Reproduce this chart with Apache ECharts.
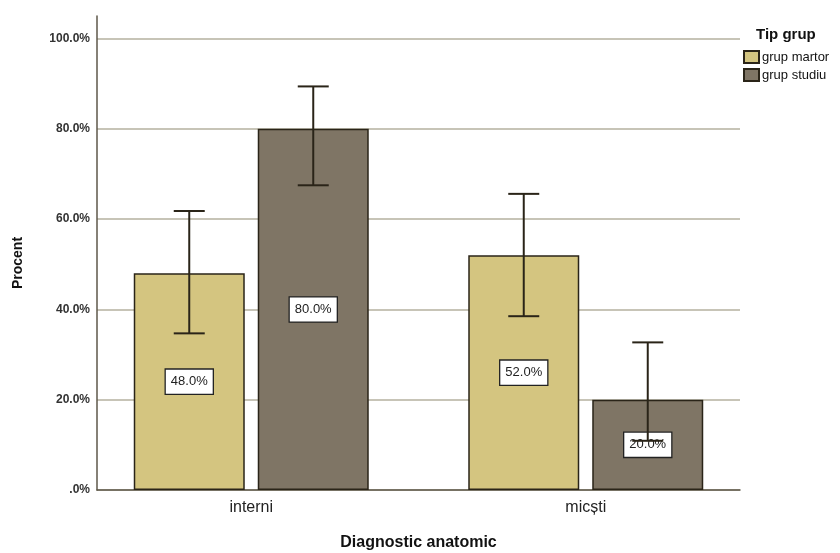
<!DOCTYPE html>
<html><head><meta charset="utf-8">
<script src="https://cdn.jsdelivr.net/npm/echarts@6/dist/echarts.min.js"></script>
<style>html,body{margin:0;padding:0;background:#fff}#c{width:840px;height:553px}</style>
</head><body><div id="c"></div>
<script>
const categories = ['interni', 'micști'];
const seriesNames = ['grup martor', 'grup studiu'];
const martor = [48.0, 52.0];
const studiu = [80.0, 20.0];
const martorLow = [34.7, 38.5];
const martorHigh = [61.8, 65.6];
const studiuLow = [67.5, 10.9];
const studiuHigh = [89.4, 32.7];
const yTicks = [0, 20, 40, 60, 80, 100];

const BAR_W = 111, BAR_GAP = 13, CAP = 31;
const FONT = 'Liberation Sans, Arial, sans-serif';

function errSeries(low, high, idx) {
  const off = (idx === 0 ? -1 : 1) * (BAR_W + BAR_GAP) / 2;
  return {
    type: 'custom', xAxisIndex: 0, yAxisIndex: 0, z: 5,
    data: low.map((l, i) => [i, l, high[i]]),
    renderItem: function (params, api) {
      const c = api.value(0);
      const p1 = api.coord([c, api.value(1)]);
      const p2 = api.coord([c, api.value(2)]);
      const x = p1[0] + off;
      const st = { stroke: '#2a2418', lineWidth: 2 };
      return { type: 'group', children: [
        { type: 'line', shape: { x1: x, y1: p1[1], x2: x, y2: p2[1] }, style: st },
        { type: 'line', shape: { x1: x - CAP / 2, y1: p1[1], x2: x + CAP / 2, y2: p1[1] }, style: st },
        { type: 'line', shape: { x1: x - CAP / 2, y1: p2[1], x2: x + CAP / 2, y2: p2[1] }, style: st }
      ]};
    }
  };
}

const labelStyle = {
  show: true, position: 'inside', formatter: p => p.value.toFixed(1) + '%',
  backgroundColor: '#fff', borderColor: '#222', borderWidth: 1.3,
  padding: [6, 5, 5, 5], fontSize: 13, color: '#222', fontFamily: FONT
};

const chart = echarts.init(document.getElementById('c'));
chart.setOption({
  animation: false,
  backgroundColor: '#fff',
  title: { text: 'Tip grup', left: 751, top: 22, textStyle: { fontSize: 15, fontWeight: 'bold', color: '#111', fontFamily: FONT } },
  legend: {
    data: seriesNames, orient: 'vertical', left: 743, top: 50, padding: 0,
    itemWidth: 15, itemHeight: 12, itemGap: 4, icon: 'rect',
    textStyle: { fontSize: 13, color: '#111', fontFamily: FONT, padding: [0, 0, 0, -2] }
  },
  graphic: [{
    type: 'text', x: 18, y: 263, rotation: Math.PI / 2,
    style: { text: 'Procent', fontSize: 14, fontWeight: 'bold', fill: '#111', fontFamily: FONT, align: 'center', verticalAlign: 'middle' }
  }],
  grid: [
    { left: 84, right: 87, top: 16, bottom: 63, outerBoundsMode: 'none', containLabel: false },
    { left: 97, right: 100, top: 16, bottom: 63, outerBoundsMode: 'none', containLabel: false }
  ],
  xAxis: [
    { type: 'category', gridIndex: 0, data: categories,
      axisLine: { show: false }, axisTick: { show: false },
      axisLabel: { fontSize: 16, color: '#222', fontFamily: FONT, margin: 10 } },
    { type: 'value', gridIndex: 1, min: 0, max: 1, splitLine: { show: false },
      axisLabel: { show: false }, axisTick: { show: false },
      axisLine: { show: true, onZero: false, lineStyle: { color: '#5e574a', width: 1.5 } },
      name: 'Diagnostic anatomic', nameLocation: 'middle', nameGap: 45,
      nameTextStyle: { fontSize: 16, fontWeight: 'bold', color: '#111', fontFamily: FONT } }
  ],
  yAxis: [
    { type: 'value', gridIndex: 0, min: 0, max: 105, interval: 20, show: false },
    { type: 'value', gridIndex: 1, min: 0, max: 105, interval: 20,
      axisLine: { show: true, lineStyle: { color: '#5e574a', width: 1.5 } },
      axisTick: { show: false },
      splitLine: { show: true, showMaxLine: false, lineStyle: { color: '#b5b19f', width: 1.5 } },
      axisLabel: { fontSize: 12, fontWeight: 'bold', color: '#333', fontFamily: FONT, margin: 7, showMaxLabel: false,
        formatter: v => yTicks.includes(v) ? (v === 0 ? '.0%' : v.toFixed(1) + '%') : '' } }
  ],
  series: [
    { name: seriesNames[0], type: 'bar', xAxisIndex: 0, yAxisIndex: 0, data: martor,
      barWidth: BAR_W, barGap: (BAR_GAP / BAR_W * 100).toFixed(1) + '%',
      itemStyle: { color: '#d4c580', borderColor: '#2a2418', borderWidth: 1.5 }, label: labelStyle },
    { name: seriesNames[1], type: 'bar', xAxisIndex: 0, yAxisIndex: 0, data: studiu,
      barWidth: BAR_W,
      itemStyle: { color: '#7f7565', borderColor: '#2a2418', borderWidth: 1.5 }, label: labelStyle },
    errSeries(martorLow, martorHigh, 0),
    errSeries(studiuLow, studiuHigh, 1)
  ]
});
</script></body></html>
